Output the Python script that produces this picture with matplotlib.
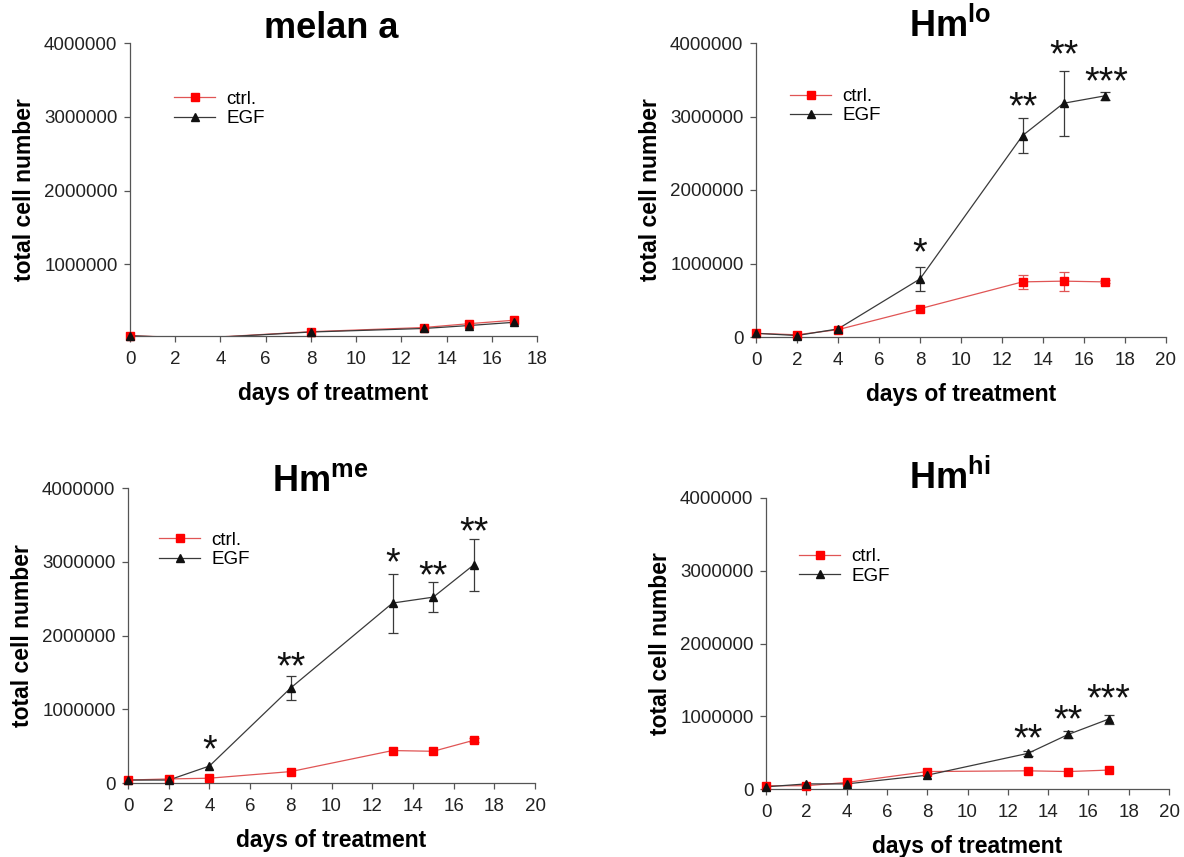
import numpy as np
import matplotlib
matplotlib.use("Agg")
import matplotlib.pyplot as plt
from matplotlib.lines import Line2D

plt.rcParams['font.family'] = ['Liberation Sans', 'DejaVu Sans']
plt.rcParams['mathtext.fontset'] = 'custom'
plt.rcParams['mathtext.rm'] = 'Liberation Sans'
plt.rcParams['mathtext.bf'] = 'Liberation Sans:bold'
plt.rcParams['mathtext.it'] = 'Liberation Sans:italic'

# data
days = [0, 2, 4, 8, 13, 15, 17]

melan_ctrl = [35000, 12000, 18000, 88000, 145000, 197000, 244000]
melan_egf = [33000, 10000, 15000, 84000, 132000, 172000, 216000]

lo_ctrl = [50000, 30000, 100000, 385000, 750000, 760000, 750000]
lo_ctrl_err = [np.nan, np.nan, np.nan, np.nan, 100000, 130000, 20000]
lo_egf = [50000, 20000, 110000, 790000, 2740000, 3180000, 3280000]
lo_egf_err = [np.nan, np.nan, np.nan, 160000, 240000, 440000, 60000]
lo_stars = [(8, 1220000, '*'), (13, 3200000, '**'), (15, 3920000, '**'), (17.1, 3540000, '***')]

me_ctrl = [40000, 55000, 65000, 155000, 440000, 430000, 580000]
me_ctrl_err = [np.nan, np.nan, np.nan, np.nan, np.nan, np.nan, 30000]
me_egf = [40000, 40000, 230000, 1290000, 2440000, 2520000, 2960000]
me_egf_err = [np.nan, np.nan, np.nan, 160000, 400000, 200000, 350000]
me_stars = [(4, 530000, '*'), (8, 1650000, '**'), (13, 3060000, '*'), (15, 2880000, '**'), (17, 3480000, '**')]

hi_ctrl = [45000, 45000, 90000, 240000, 250000, 240000, 260000]
hi_egf = [30000, 70000, 70000, 190000, 490000, 750000, 960000]
hi_egf_err = [np.nan, np.nan, np.nan, np.nan, 30000, 50000, 60000]
hi_stars = [(13, 760000, '**'), (15, 1020000, '**'), (17, 1320000, '***')]

yticks = [0, 1000000, 2000000, 3000000, 4000000]

W, H = 1184, 857
fig = plt.figure(figsize=(W / 100, H / 100), dpi=100)

def make_axes(l, t, r, b):
    return fig.add_axes([l / W, 1 - b / H, (r - l) / W, (b - t) / H])

RED = '#ff0000'
REDLINE = '#e05555'
BLK = '#111111'
GRAYLINE = '#3a3a3a'

def panel(ax, ctrl, egf, xmax, ylo, ctrl_err=None, egf_err=None, stars=(), leg_xy=(0.08, 0.79)):
    d = np.array(days)
    c = np.array(ctrl, dtype=float)
    e = np.array(egf, dtype=float)
    if ctrl_err is not None:
        ax.errorbar(d, c, yerr=ctrl_err, fmt='none', ecolor=REDLINE, elinewidth=0.9, capsize=3.5, capthick=0.9)
    if egf_err is not None:
        ax.errorbar(d, e, yerr=egf_err, fmt='none', ecolor=GRAYLINE, elinewidth=0.9, capsize=3.5, capthick=0.9)
    ax.plot(d, c, color=REDLINE, lw=0.9)
    ax.plot(d, e, color=GRAYLINE, lw=0.9)
    # markers only where the point is inside the axis range
    vc = c >= ylo
    ve = e >= ylo
    ax.plot(d[vc], c[vc], ls='none', marker='s', ms=6.3, mfc=RED, mec=RED, clip_on=False, zorder=4)
    ax.plot(d[ve], e[ve], ls='none', marker='^', ms=6.3, mfc=BLK, mec=BLK, clip_on=False, zorder=4)
    for x, y, s in stars:
        ax.annotate(s, (x, y), xytext=(0, -5), textcoords='offset points',
                    ha='center', va='center', fontsize=27, color=BLK)
    ax.set_xlim(0, xmax)
    ax.set_ylim(ylo, 4000000)
    ax.set_xticks(range(0, xmax + 1, 2))
    ax.set_yticks([t for t in yticks if t >= ylo])
    ax.set_yticklabels([str(t) for t in yticks if t >= ylo])
    for s in ['top', 'right']:
        ax.spines[s].set_visible(False)
    for s in ['left', 'bottom']:
        ax.spines[s].set_color('#555555')
        ax.spines[s].set_linewidth(0.9)
    ax.tick_params(direction='out', length=4, width=0.9, color='#555555', labelsize=13.5, labelcolor='#222222')
    ax.tick_params(axis='x', pad=7)
    ax.tick_params(axis='y', pad=5)
    ax.set_xlabel('days of treatment', fontsize=16.5, fontweight='bold', labelpad=10)
    ax.set_ylabel('total cell number', fontsize=16.5, fontweight='bold', labelpad=5.5)
    handles = [Line2D([], [], color=REDLINE, lw=0.9, marker='s', ms=6.3, mfc=RED, mec=RED),
               Line2D([], [], color=GRAYLINE, lw=0.9, marker='^', ms=6.3, mfc=BLK, mec=BLK)]
    ax.legend(handles, ['ctrl.', 'EGF'], loc='center left', bbox_to_anchor=leg_xy, frameon=False,
              fontsize=13.5, handlelength=2.2, handletextpad=0.6, labelspacing=0.12,
              borderpad=0, borderaxespad=0)

ax1 = make_axes(130, 43, 537, 336)
panel(ax1, melan_ctrl, melan_egf, 18, 30000, leg_xy=(0.108, 0.775))
ax2 = make_axes(756, 43, 1166, 337)
panel(ax2, lo_ctrl, lo_egf, 20, 0, lo_ctrl_err, lo_egf_err, lo_stars, leg_xy=(0.083, 0.785))
ax3 = make_axes(128, 488, 535, 783)
panel(ax3, me_ctrl, me_egf, 20, 0, me_ctrl_err, me_egf_err, me_stars, leg_xy=(0.076, 0.79))
ax4 = make_axes(766, 498, 1169, 789)
panel(ax4, hi_ctrl, hi_egf, 20, 0, None, hi_egf_err, hi_stars, leg_xy=(0.082, 0.765))

titles = [('melan a', 331, 38), (r'$\mathbf{Hm^{lo}}$', 950, 37),
          (r'$\mathbf{Hm^{me}}$', 320, 491), (r'$\mathbf{Hm^{hi}}$', 950, 489)]
for txt, x, y in titles:
    fig.text(x / W, 1 - y / H, txt, ha='center', va='baseline', fontsize=26, fontweight='bold')

fig.savefig('out.png', dpi=100)
